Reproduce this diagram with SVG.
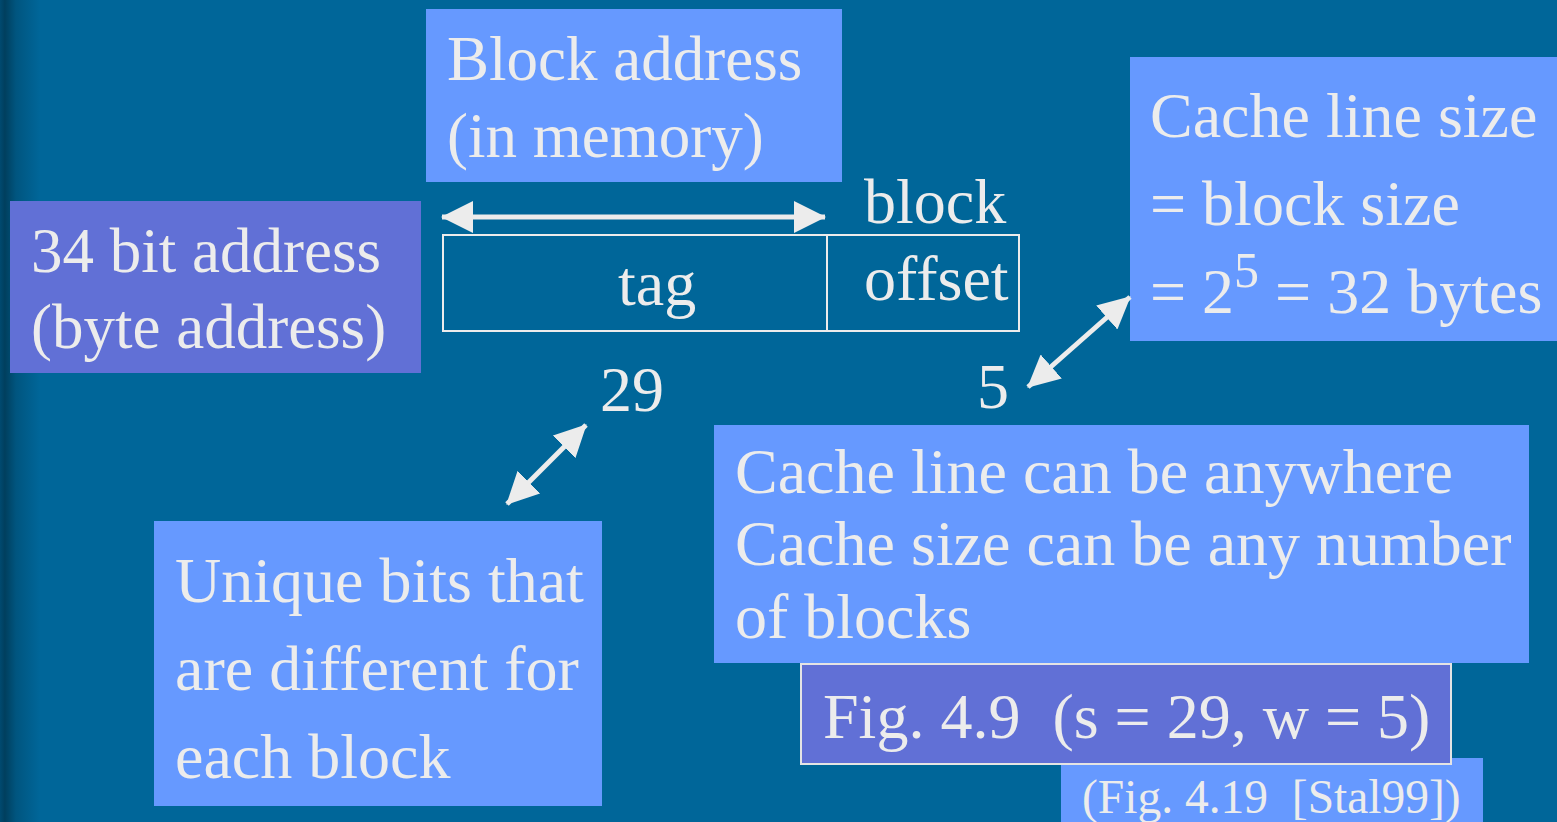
<svg xmlns="http://www.w3.org/2000/svg" width="1557" height="822" viewBox="0 0 1557 822">
  <style>
    .t { font-family: "Liberation Serif", "Times New Roman", serif; font-size: 64px; fill: #ececec; white-space: pre; }
    .s63 { font-size: 63px; }
    .sm { font-size: 47.5px; }
    .light { fill: #6699ff; }
    .purple { fill: #6170d6; }
    .conn { stroke: #ececec; stroke-width: 5; fill: none; marker-start: url(#head); marker-end: url(#head); }
    .field { fill: none; stroke: #ececec; stroke-width: 2; }
  </style>
  <defs>
    <linearGradient id="bg" x1="0" y1="0" x2="1" y2="0">
      <stop offset="0" stop-color="#004a70"/>
      <stop offset="0.12" stop-color="#003f5e"/>
      <stop offset="0.4" stop-color="#00557f"/>
      <stop offset="1" stop-color="#006699"/>
    </linearGradient>
    <marker id="head" viewBox="0 0 32 32" refX="31" refY="16" markerWidth="32" markerHeight="32" markerUnits="userSpaceOnUse" orient="auto-start-reverse">
      <path d="M0,0 L32,16 L0,32 z" fill="#ececec"/>
    </marker>
  </defs>

  <rect x="0" y="0" width="1557" height="822" fill="#006699"/>
  <rect x="0" y="0" width="40" height="822" fill="url(#bg)"/>

  <g id="block-address">
    <rect class="light" x="426" y="9" width="416" height="173"/>
    <text class="t s63" x="447" y="80">Block address</text>
    <text class="t s63" x="447" y="157">(in memory)</text>
  </g>

  <g id="bit-address">
    <rect class="purple" x="10" y="201" width="411" height="172"/>
    <text class="t s63" x="31" y="272">34 bit address</text>
    <text class="t s63" x="31" y="348">(byte address)</text>
  </g>

  <g id="address-fields">
    <rect class="field" x="443" y="235" width="384" height="96"/>
    <rect class="field" x="827" y="235" width="192" height="96"/>
    <text class="t" x="618" y="305">tag</text>
    <text class="t" x="864" y="223">block</text>
    <text class="t" x="864" y="300">offset</text>
  </g>

  <g id="width-29">
    <text class="t" x="600" y="411">29</text>
  </g>
  <g id="width-5">
    <text class="t" x="977" y="408">5</text>
  </g>

  <g id="cache-line-size">
    <rect class="light" x="1130" y="57" width="427" height="284"/>
    <text class="t" x="1150" y="137">Cache line size</text>
    <text class="t" x="1150" y="225">= block size</text>
    <text class="t" x="1150" y="313">= 2<tspan font-size="50" dy="-26">5</tspan><tspan dy="26"> = 32 bytes</tspan></text>
  </g>

  <g id="cache-anywhere">
    <rect class="light" x="714" y="425" width="815" height="238"/>
    <text class="t" x="735" y="493">Cache line can be anywhere</text>
    <text class="t" x="735" y="565">Cache size can be any number</text>
    <text class="t" x="735" y="638">of blocks</text>
  </g>

  <g id="unique-bits">
    <rect class="light" x="154" y="521" width="448" height="285"/>
    <text class="t" x="175" y="602">Unique bits that</text>
    <text class="t" x="175" y="690">are different for</text>
    <text class="t" x="175" y="778">each block</text>
  </g>

  <g id="stal-ref">
    <rect class="light" x="1061" y="758" width="422" height="64"/>
    <text class="t sm" x="1082" y="813">(Fig. 4.19  [Stal99])</text>
  </g>

  <g id="fig-ref">
    <rect class="purple" x="801" y="664" width="650" height="100" stroke="#e4e4e4" stroke-width="2"/>
    <text class="t" x="823" y="738">Fig. 4.9  (s = 29, w = 5)</text>
  </g>

  <g id="connectors">
    <line class="conn" x1="442" y1="217" x2="825" y2="217"/>
    <line class="conn" x1="1028" y1="387" x2="1130" y2="297"/>
    <line class="conn" x1="507" y1="504" x2="586" y2="425"/>
  </g>
</svg>
